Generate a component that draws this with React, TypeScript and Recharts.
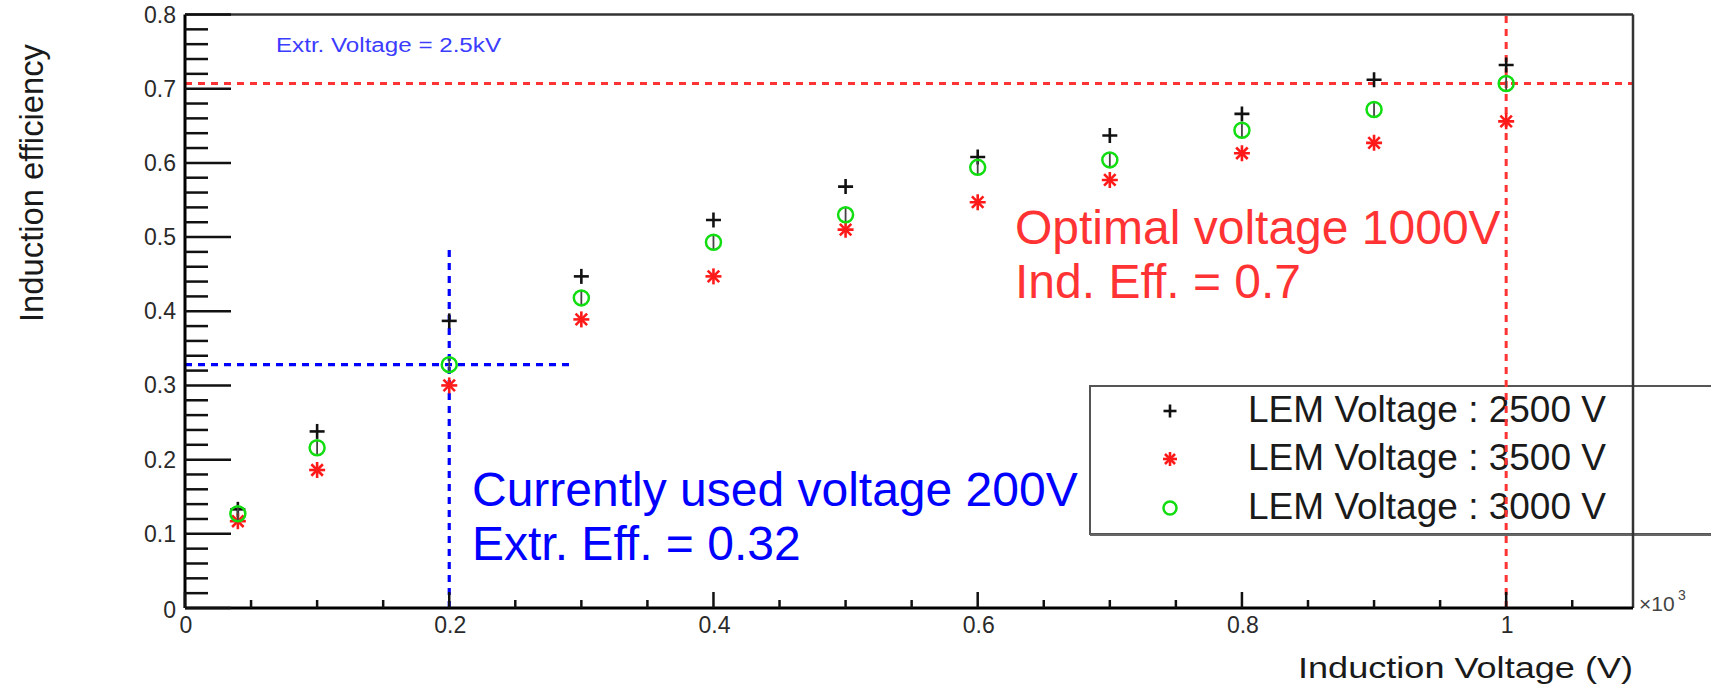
import React from "react";
import { ScatterChart, Scatter, XAxis, YAxis, ReferenceLine } from "recharts";

// Induction efficiency vs. induction voltage for three LEM voltages
const voltages = [40, 100, 200, 300, 400, 500, 600, 700, 800, 900, 1000];
const eff2500 = [0.133, 0.238, 0.387, 0.447, 0.523, 0.568, 0.608, 0.637, 0.666, 0.712, 0.732];
const eff3500 = [0.117, 0.186, 0.3, 0.389, 0.447, 0.51, 0.547, 0.577, 0.613, 0.627, 0.656];
const eff3000 = [0.127, 0.216, 0.328, 0.418, 0.493, 0.53, 0.594, 0.604, 0.644, 0.672, 0.707];

const seriesNames = ["LEM Voltage : 2500 V", "LEM Voltage : 3500 V", "LEM Voltage : 3000 V"];

// axis ticks
const xMajorTicks = [0, 200, 400, 600, 800, 1000];
const xTickLabels = ["0", "0.2", "0.4", "0.6", "0.8", "1"];
const yMajorTicks = [0, 0.1, 0.2, 0.3, 0.4, 0.5, 0.6, 0.7, 0.8];
const yTickLabels = ["0", "0.1", "0.2", "0.3", "0.4", "0.5", "0.6", "0.7", "0.8"];

// reference markers
const currentVoltage = 200;
const currentEff = 0.328;
const optimalVoltage = 1000;
const optimalEff = 0.707;

const X_MAX = 1096;
const Y_MAX = 0.8;

// minor tick subdivisions
const xTicks: number[] = [];
for (let v = 0; v <= 1050; v += 50) xTicks.push(v);
const yTicks: number[] = [];
for (let i = 0; i <= 40; i++) yTicks.push(Number((i * 0.02).toFixed(2)));

const toRows = (ys: number[]) => voltages.map((x, i) => ({ x, y: ys[i] }));
const rows2500 = toRows(eff2500);
const rows3500 = toRows(eff3500);
const rows3000 = toRows(eff3000);

const FONT = "'Liberation Sans', Arial, Helvetica, sans-serif";
const W = 1711;
const H = 685;
// each axis below takes 1px of its side
const MARGIN = { top: 13.5, right: 77, bottom: 76, left: 184 };

const RED = "#ff3333";
const BLUE = "#0000ff";
const GREEN = "#11dd11";

const PlusMark = ({ cx, cy, s = 7.5 }: any) => (
  <g>
    <line x1={cx - s} x2={cx + s} y1={cy} y2={cy} stroke="#111" strokeWidth={2.6} />
    <line x1={cx} x2={cx} y1={cy - s} y2={cy + s} stroke="#111" strokeWidth={2.6} />
  </g>
);

const StarMark = ({ cx, cy, s = 8 }: any) => {
  const d = s * 0.72;
  return (
    <g stroke="#ff1a1a" strokeWidth={2.6}>
      <line x1={cx - s} x2={cx + s} y1={cy} y2={cy} />
      <line x1={cx} x2={cx} y1={cy - s} y2={cy + s} />
      <line x1={cx - d} x2={cx + d} y1={cy - d} y2={cy + d} />
      <line x1={cx - d} x2={cx + d} y1={cy + d} y2={cy - d} />
    </g>
  );
};

const RingMark = ({ cx, cy, r = 7.5, bar = true }: any) => (
  <g>
    {bar && <line x1={cx} x2={cx} y1={cy - r} y2={cy + r} stroke="#444" strokeWidth={1.8} />}
    <circle cx={cx} cy={cy} r={r} fill="none" stroke={GREEN} strokeWidth={2.5} />
  </g>
);

const YTick = (props: any) => {
  const { x, y, payload } = props;
  const v = payload.value;
  const idx = yMajorTicks.findIndex((t) => Math.abs(t - v) < 1e-9);
  const major = idx >= 0;
  return (
    <g>
      <line x1={x} x2={x + (major ? 46 : 23)} y1={y} y2={y} stroke="#111" strokeWidth={2.5} />
      {major && (
        <text x={x - 9} y={y + (v === 0 ? 10 : 8)} textAnchor="end" fontSize={23} fill="#2a2a2a" fontFamily={FONT}>
          {yTickLabels[idx]}
        </text>
      )}
    </g>
  );
};

const XTick = (props: any) => {
  const { x, y, payload } = props;
  const v = payload.value;
  const idx = xMajorTicks.indexOf(v);
  const major = idx >= 0;
  return (
    <g>
      <line x1={x} x2={x} y1={y} y2={y - (major ? 16 : 8)} stroke="#111" strokeWidth={2.5} />
      {major && (
        <text x={x + 1} y={y + 25} textAnchor="middle" fontSize={23} fill="#2a2a2a" fontFamily={FONT}>
          {xTickLabels[idx]}
        </text>
      )}
    </g>
  );
};

const LegendBox = () => {
  const rows = [
    { label: seriesNames[0], y: 422, mark: <PlusMark cx={1170} cy={411} s={6.5} /> },
    { label: seriesNames[1], y: 470, mark: <StarMark cx={1170} cy={459} s={7} /> },
    { label: seriesNames[2], y: 519, mark: <RingMark cx={1170} cy={508} r={6.5} bar={false} /> },
  ];
  return (
    <g>
      <rect x={1090} y={386} width={640} height={148} fill="#fff" stroke="#555" strokeWidth={2} />
      <line x1={1090} x2={1720} y1={535} y2={535} stroke="#666" strokeWidth={2} />
      {rows.map((r) => (
        <g key={r.label}>
          {r.mark}
          <text x={1248} y={r.y} fontSize={36} fill="#1a1a1a" fontFamily={FONT} textLength={358} lengthAdjust="spacingAndGlyphs">
            {r.label}
          </text>
        </g>
      ))}
    </g>
  );
};

const Annotations = () => (
  <g fontFamily={FONT}>
    <text x={276} y={52} fontSize={20} fill="#3c3cff" textLength={225} lengthAdjust="spacingAndGlyphs">
      Extr. Voltage = 2.5kV
    </text>
    <text x={1015} y={244} fontSize={48} fill={RED}>Optimal voltage 1000V</text>
    <text x={1015} y={298} fontSize={48} fill={RED}>Ind. Eff. = 0.7</text>
    <text x={472} y={506} fontSize={48} fill={BLUE}>Currently used voltage 200V</text>
    <text x={472} y={560} fontSize={48} fill={BLUE}>Extr. Eff. = 0.32</text>
    <text x={43} y={183} fontSize={33} fill="#1a1a1a" textAnchor="middle" transform="rotate(-90 43 183)" textLength={278} lengthAdjust="spacingAndGlyphs">
      Induction efficiency
    </text>
    <text x={1298} y={678} fontSize={30} fill="#1a1a1a" textLength={335} lengthAdjust="spacingAndGlyphs">
      Induction Voltage (V)
    </text>
    <text x={1639} y={611} fontSize={21} fill="#444">×10</text>
    <text x={1678} y={600} fontSize={14} fill="#444">3</text>
  </g>
);

export default function App() {
  return (
    <div style={{ position: "absolute", left: 0, top: 0, width: W, height: H, background: "#fff" }}>
      <ScatterChart width={W} height={H} margin={MARGIN}>
        <XAxis
          xAxisId="top"
          orientation="top"
          type="number"
          domain={[0, X_MAX]}
          allowDataOverflow
          height={1}
          tick={false}
          tickLine={false}
          axisLine={{ stroke: "#333", strokeWidth: 2.5 }}
        />
        <YAxis
          yAxisId="right"
          orientation="right"
          type="number"
          domain={[0, Y_MAX]}
          allowDataOverflow
          width={1}
          tick={false}
          tickLine={false}
          axisLine={{ stroke: "#333", strokeWidth: 2.5 }}
        />
        <XAxis
          type="number"
          dataKey="x"
          domain={[0, X_MAX]}
          ticks={xTicks}
          interval={0}
          allowDataOverflow
          height={1}
          tickSize={0}
          tickMargin={0}
          tickLine={false}
          tick={<XTick />}
          axisLine={{ stroke: "#000", strokeWidth: 3 }}
        />
        <YAxis
          type="number"
          dataKey="y"
          domain={[0, Y_MAX]}
          ticks={yTicks}
          interval={0}
          allowDataOverflow
          width={1}
          tickSize={0}
          tickMargin={0}
          tickLine={false}
          tick={<YTick />}
          axisLine={{ stroke: "#000", strokeWidth: 3 }}
        />
        <Scatter name={seriesNames[0]} data={rows2500} isAnimationActive={false} shape={(p: any) => <PlusMark cx={p.cx} cy={p.cy} />} />
        <Scatter name={seriesNames[1]} data={rows3500} isAnimationActive={false} shape={(p: any) => <StarMark cx={p.cx} cy={p.cy} />} />
        <Scatter name={seriesNames[2]} data={rows3000} isAnimationActive={false} shape={(p: any) => <RingMark cx={p.cx} cy={p.cy} />} />
        <ReferenceLine y={optimalEff} stroke={RED} strokeWidth={3} strokeDasharray="7 6" />
        <ReferenceLine
          segment={[{ x: 0, y: currentEff }, { x: 293, y: currentEff }]}
          stroke={BLUE}
          strokeWidth={3.2}
          strokeDasharray="7 6"
        />
        <ReferenceLine
          segment={[{ x: currentVoltage, y: 0 }, { x: currentVoltage, y: 0.487 }]}
          stroke={BLUE}
          strokeWidth={3.2}
          strokeDasharray="7 6"
        />
        <Annotations />
        <LegendBox />
        <ReferenceLine
          segment={[{ x: optimalVoltage, y: 0 }, { x: optimalVoltage, y: 0.806 }]}
          ifOverflow="visible"
          stroke={RED}
          strokeWidth={3}
          strokeDasharray="7 6"
        />
      </ScatterChart>
    </div>
  );
}
